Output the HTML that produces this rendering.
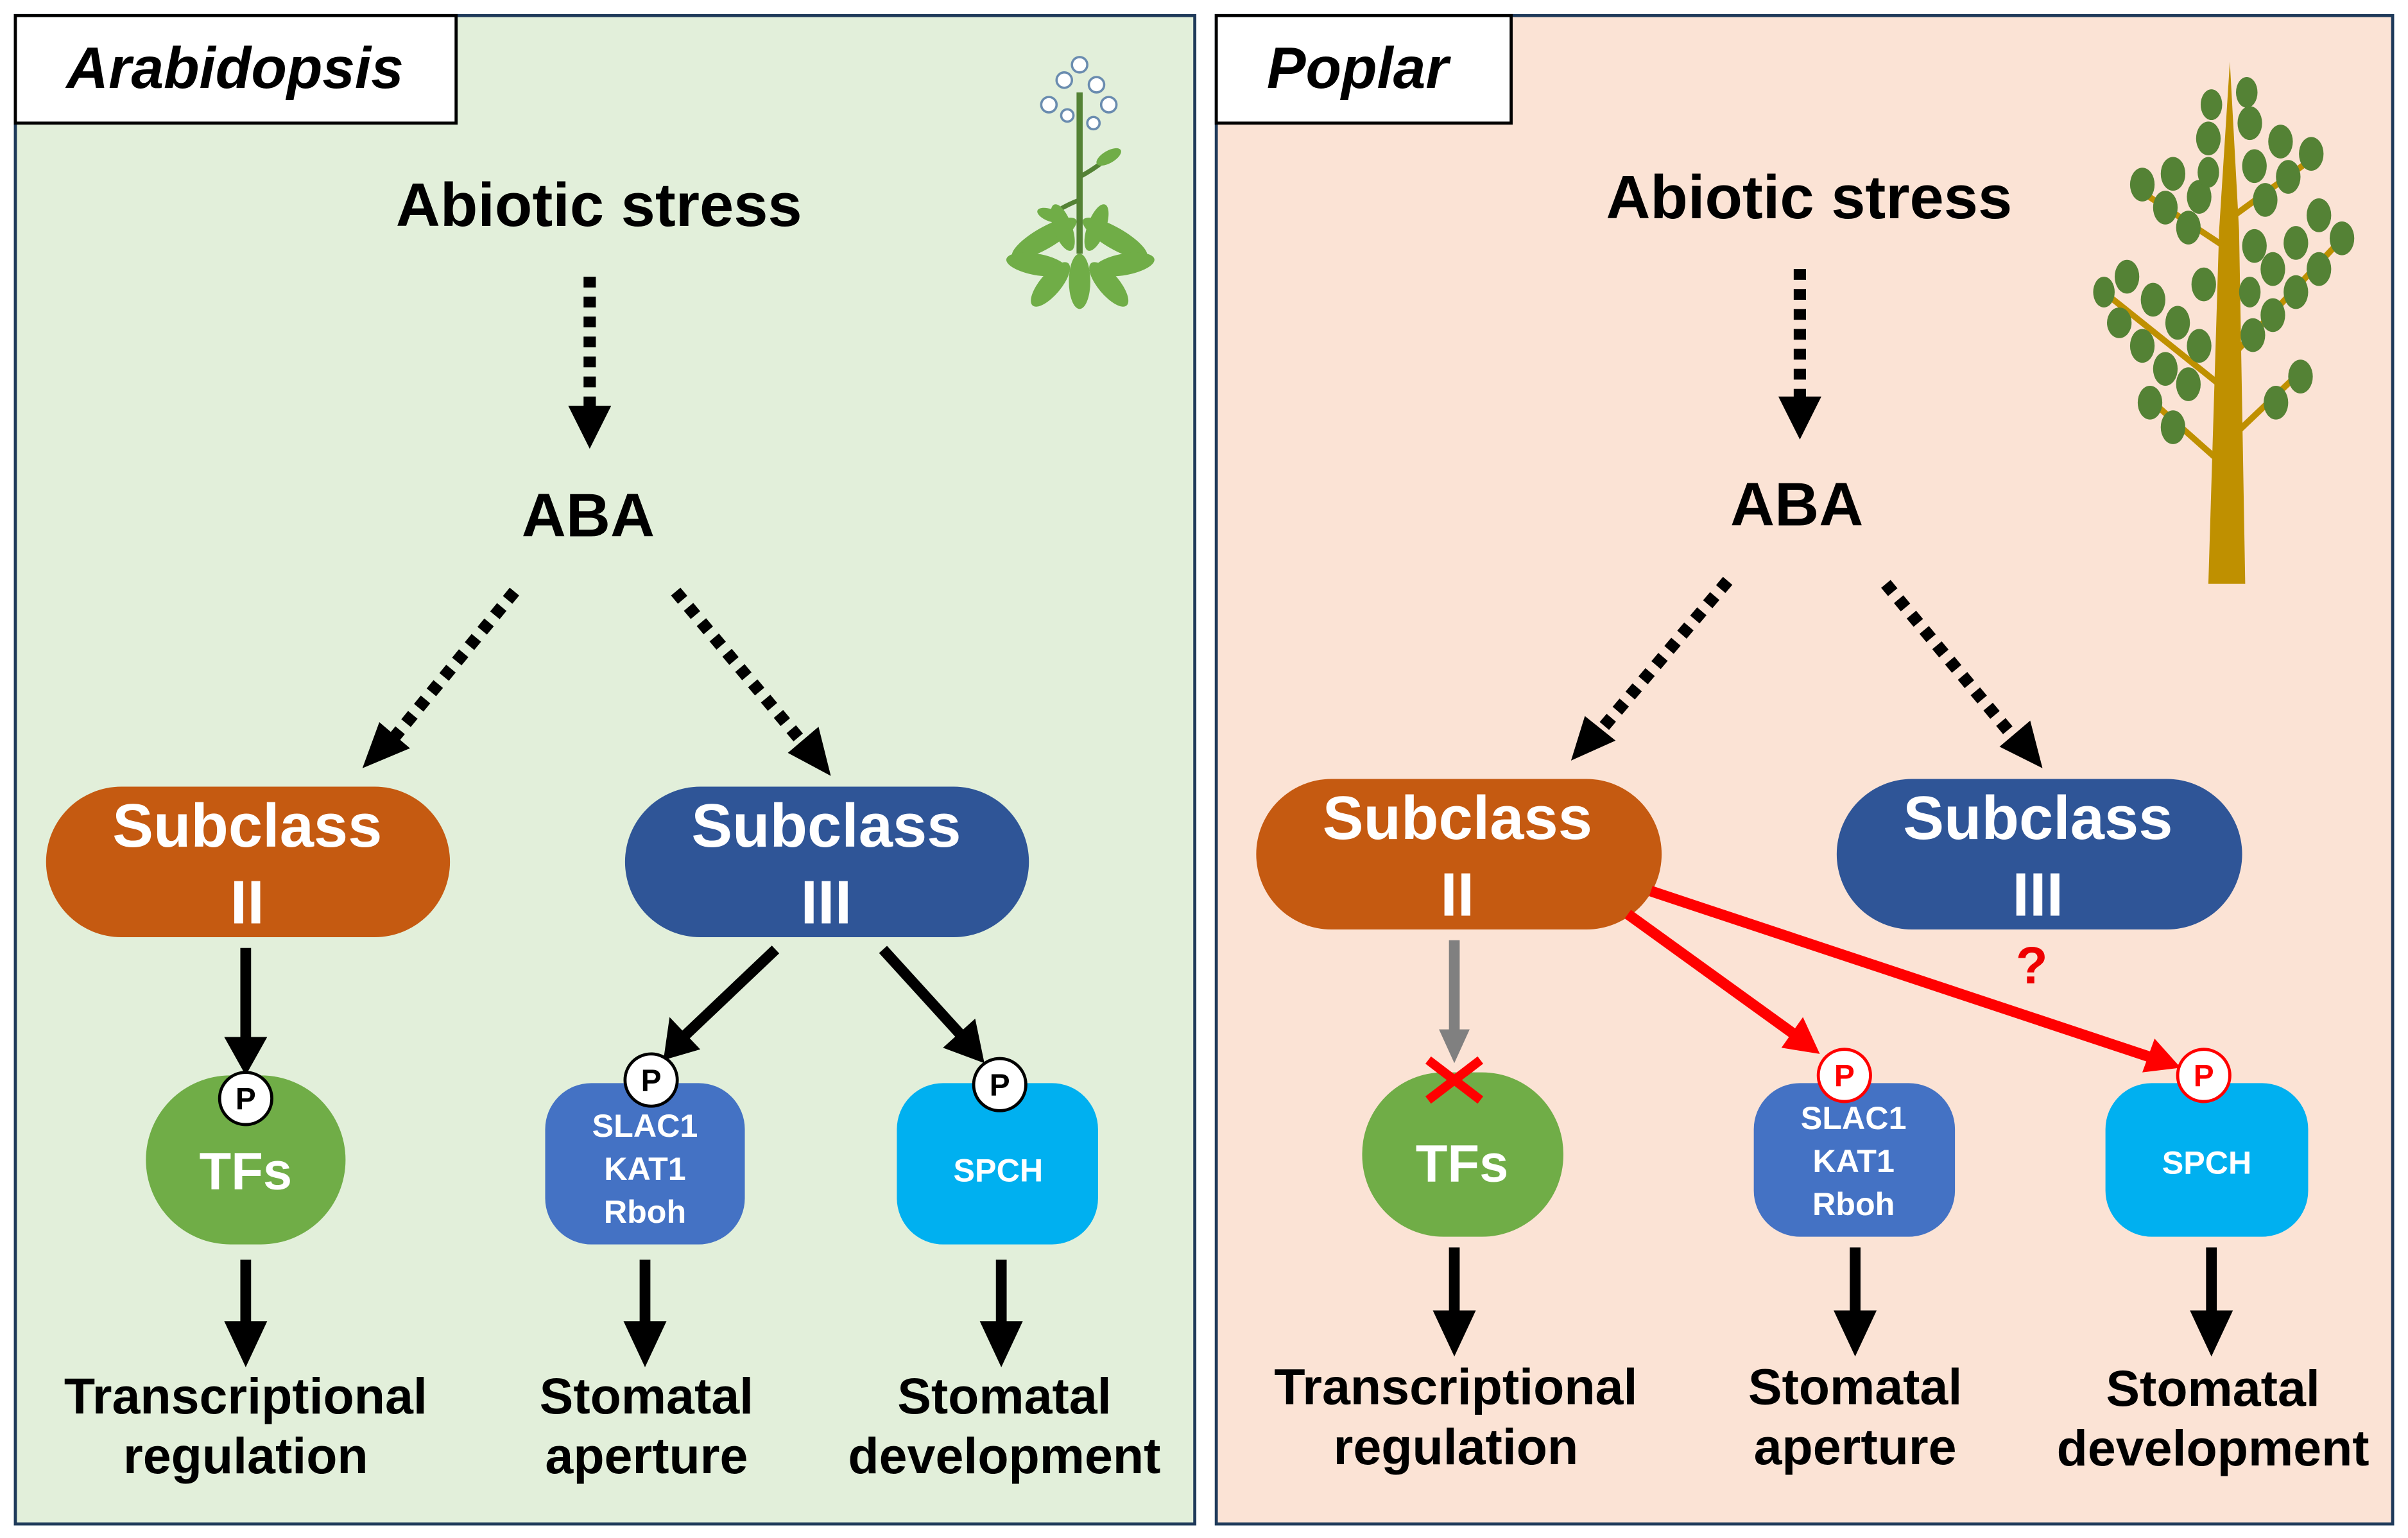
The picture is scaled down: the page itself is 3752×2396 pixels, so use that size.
<!DOCTYPE html>
<html><head><meta charset="utf-8"><style>
html,body{margin:0;padding:0;background:#fff}
svg{display:block}
text{font-family:"Liberation Sans",sans-serif;font-weight:bold;text-anchor:middle}
</style></head><body>
<svg width="3752" height="2396" viewBox="0 0 1568 1001" xmlns="http://www.w3.org/2000/svg">
<rect width="1568" height="1001" fill="#fff"/>
<!-- Left panel -->
<rect x="10" y="10" width="768" height="982" fill="#e2efda" stroke="#1f3a5a" stroke-width="2"/>
<rect x="10" y="10" width="287" height="70" fill="#fff" stroke="#000" stroke-width="2"/>
<text x="153" y="57" font-size="38" font-style="italic">Arabidopsis</text>
<!-- Right panel -->
<rect x="792" y="10" width="766" height="982" fill="#fbe3d5" stroke="#1f3a5a" stroke-width="2"/>
<rect x="792" y="10" width="192" height="70" fill="#fff" stroke="#000" stroke-width="2"/>
<text x="884" y="57" font-size="38" font-style="italic">Poplar</text>

<!-- Arabidopsis plant -->
<g>
<path d="M703 60 L703 165" stroke="#548235" stroke-width="4"/>
<path d="M703 115 Q716 108 724 100" stroke="#548235" stroke-width="3" fill="none"/>
<path d="M703 130 Q690 135 682 142" stroke="#548235" stroke-width="3" fill="none"/>
<ellipse cx="722" cy="102" rx="9" ry="4" fill="#70ad47" transform="rotate(-30 722 102)"/>
<ellipse cx="684" cy="140" rx="9" ry="4" fill="#70ad47" transform="rotate(20 684 140)"/>
<g fill="#70ad47">
<ellipse cx="680" cy="155" rx="24" ry="7" transform="rotate(-30 680 155)"/>
<ellipse cx="726" cy="155" rx="24" ry="7" transform="rotate(30 726 155)"/>
<ellipse cx="675" cy="172" rx="20" ry="7" transform="rotate(10 675 172)"/>
<ellipse cx="732" cy="172" rx="20" ry="7" transform="rotate(-10 732 172)"/>
<ellipse cx="684" cy="185" rx="7" ry="18" transform="rotate(40 684 185)"/>
<ellipse cx="722" cy="185" rx="7" ry="18" transform="rotate(-40 722 185)"/>
<ellipse cx="703" cy="183" rx="7" ry="18"/>
<ellipse cx="692" cy="148" rx="6" ry="16" transform="rotate(-20 692 148)"/>
<ellipse cx="714" cy="148" rx="6" ry="16" transform="rotate(20 714 148)"/>
</g>
<g fill="#fff" stroke="#6a8caf" stroke-width="1.5">
<circle cx="703" cy="42" r="5"/><circle cx="693" cy="52" r="5"/><circle cx="714" cy="55" r="5"/>
<circle cx="683" cy="68" r="5"/><circle cx="722" cy="68" r="5"/><circle cx="695" cy="75" r="4"/><circle cx="712" cy="80" r="4"/>
</g>
</g>

<!-- Poplar tree -->
<g>
<path d="M1438 380 L1445 150 L1452 40 L1458 150 L1462 380 z" fill="#bf9000"/>
<g stroke="#bf9000" stroke-width="4" fill="none">
<path d="M1445 250 L1370 190"/><path d="M1455 230 L1530 150"/><path d="M1448 160 L1395 125"/><path d="M1455 140 L1510 100"/><path d="M1445 300 L1400 260"/><path d="M1458 280 L1500 240"/>
</g>
<g fill="#548235">
<ellipse cx="1370" cy="190" rx="7" ry="10"/><ellipse cx="1380" cy="210" rx="8" ry="10"/><ellipse cx="1395" cy="225" rx="8" ry="11"/><ellipse cx="1410" cy="240" rx="8" ry="11"/><ellipse cx="1425" cy="250" rx="8" ry="11"/>
<ellipse cx="1385" cy="180" rx="8" ry="11"/><ellipse cx="1402" cy="195" rx="8" ry="11"/><ellipse cx="1418" cy="210" rx="8" ry="11"/><ellipse cx="1432" cy="225" rx="8" ry="11"/>
<ellipse cx="1525" cy="155" rx="8" ry="11"/><ellipse cx="1510" cy="175" rx="8" ry="11"/><ellipse cx="1495" cy="190" rx="8" ry="11"/><ellipse cx="1480" cy="205" rx="8" ry="11"/><ellipse cx="1467" cy="218" rx="8" ry="11"/>
<ellipse cx="1510" cy="140" rx="8" ry="11"/><ellipse cx="1495" cy="158" rx="8" ry="11"/><ellipse cx="1480" cy="175" rx="8" ry="11"/>
<ellipse cx="1395" cy="120" rx="8" ry="11"/><ellipse cx="1410" cy="135" rx="8" ry="11"/><ellipse cx="1425" cy="148" rx="8" ry="11"/><ellipse cx="1415" cy="113" rx="8" ry="11"/><ellipse cx="1432" cy="128" rx="8" ry="11"/>
<ellipse cx="1505" cy="100" rx="8" ry="11"/><ellipse cx="1490" cy="115" rx="8" ry="11"/><ellipse cx="1475" cy="130" rx="8" ry="11"/><ellipse cx="1485" cy="92" rx="8" ry="11"/><ellipse cx="1468" cy="108" rx="8" ry="11"/>
<ellipse cx="1438" cy="90" rx="8" ry="11"/><ellipse cx="1465" cy="80" rx="8" ry="11"/><ellipse cx="1440" cy="68" rx="7" ry="10"/><ellipse cx="1463" cy="60" rx="7" ry="10"/><ellipse cx="1438" cy="112" rx="7" ry="10"/>
<ellipse cx="1400" cy="262" rx="8" ry="11"/><ellipse cx="1415" cy="278" rx="8" ry="11"/><ellipse cx="1498" cy="245" rx="8" ry="11"/><ellipse cx="1482" cy="262" rx="8" ry="11"/>
<ellipse cx="1435" cy="185" rx="8" ry="11"/><ellipse cx="1468" cy="160" rx="8" ry="11"/><ellipse cx="1465" cy="190" rx="7" ry="10"/>
</g>
</g>

<g font-size="40">
<text x="390" y="147">Abiotic stress</text>
<text x="383" y="349">ABA</text>
<text x="1178" y="142">Abiotic stress</text>
<text x="1170" y="342">ABA</text>
</g>

<g stroke="#000" stroke-width="8" stroke-dasharray="7,6" fill="none">
<line x1="384" y1="180" x2="384" y2="268"/>
<line x1="335" y1="385" x2="255" y2="482"/>
<line x1="440" y1="385" x2="524" y2="485"/>
<line x1="1172" y1="175" x2="1172" y2="262"/>
<line x1="1125" y1="378" x2="1040" y2="478"/>
<line x1="1228" y1="380" x2="1313" y2="482"/>
</g>
<g fill="#000">
<path d="M370 264 L398 264 L384 292 z"/>
<path d="M1158 258 L1186 258 L1172 286 z"/>
<path d="M236 500 L247 470 L267 487 z"/>
<path d="M541 505 L513 490 L533 473 z"/>
<path d="M1023 495 L1032 466 L1052 482 z"/>
<path d="M1330 500 L1302 486 L1322 469 z"/>
</g>

<g font-size="40" fill="#fff">
<rect x="30" y="512" width="263" height="98" rx="49" fill="#c55a11"/>
<text x="161" y="551" fill="#fff">Subclass</text><text x="161" y="601" fill="#fff">II</text>
<rect x="407" y="512" width="263" height="98" rx="49" fill="#2f5597"/>
<text x="538" y="551" fill="#fff">Subclass</text><text x="538" y="601" fill="#fff">III</text>
<rect x="818" y="507" width="264" height="98" rx="49" fill="#c55a11"/>
<text x="949" y="546" fill="#fff">Subclass</text><text x="949" y="596" fill="#fff">II</text>
<rect x="1196" y="507" width="264" height="98" rx="49" fill="#2f5597"/>
<text x="1327" y="546" fill="#fff">Subclass</text><text x="1327" y="596" fill="#fff">III</text>
</g>
<text x="1323" y="640" font-size="34" fill="#e00">?</text>

<rect x="95" y="700" width="130" height="110" rx="55" fill="#70ad47"/>
<text x="160" y="774" font-size="34" fill="#fff">TFs</text>
<rect x="355" y="705" width="130" height="105" rx="30" fill="#4472c4"/>
<g font-size="21" fill="#fff"><text x="420" y="740" fill="#fff">SLAC1</text><text x="420" y="768" fill="#fff">KAT1</text><text x="420" y="796" fill="#fff">Rboh</text></g>
<rect x="584" y="705" width="131" height="105" rx="30" fill="#00b0f0"/>
<text x="650" y="769" font-size="21" fill="#fff">SPCH</text>

<rect x="887" y="698" width="131" height="107" rx="53" fill="#70ad47"/>
<text x="952" y="769" font-size="34" fill="#fff">TFs</text>
<rect x="1142" y="705" width="131" height="100" rx="30" fill="#4472c4"/>
<g font-size="21" fill="#fff"><text x="1207" y="735" fill="#fff">SLAC1</text><text x="1207" y="763" fill="#fff">KAT1</text><text x="1207" y="791" fill="#fff">Rboh</text></g>
<rect x="1371" y="705" width="132" height="100" rx="30" fill="#00b0f0"/>
<text x="1437" y="764" font-size="21" fill="#fff">SPCH</text>

<g stroke="#000" stroke-width="7">
<line x1="160" y1="617" x2="160" y2="678"/>
<line x1="505" y1="618" x2="446" y2="674"/>
<line x1="575" y1="618" x2="626" y2="674"/>
<line x1="160" y1="820" x2="160" y2="865"/>
<line x1="420" y1="820" x2="420" y2="865"/>
<line x1="652" y1="820" x2="652" y2="865"/>
<line x1="947" y1="812" x2="947" y2="858"/>
<line x1="1208" y1="812" x2="1208" y2="858"/>
<line x1="1440" y1="812" x2="1440" y2="858"/>
</g>
<g fill="#000">
<path d="M146 675 L174 675 L160 700 z"/>
<path d="M432 690 L436 662 L456 683 z"/>
<path d="M641 692 L614 682 L635 663 z"/>
<path d="M146 860 L174 860 L160 890 z"/>
<path d="M406 860 L434 860 L420 890 z"/>
<path d="M638 860 L666 860 L652 890 z"/>
<path d="M933 853 L961 853 L947 883 z"/>
<path d="M1194 853 L1222 853 L1208 883 z"/>
<path d="M1426 853 L1454 853 L1440 883 z"/>
</g>

<line x1="947" y1="612" x2="947" y2="672" stroke="#808080" stroke-width="7"/>
<path d="M937 670 L957 670 L947 692 z" fill="#808080"/>
<g stroke="#f00" stroke-width="7">
<line x1="1060" y1="595" x2="1168" y2="673"/>
<line x1="1075" y1="580" x2="1400" y2="688"/>
</g>
<path d="M1185 686 L1160 682 L1174 662 z" fill="#f00"/>
<path d="M1420 695 L1395 698 L1403 676 z" fill="#f00"/>
<g stroke="#f00" stroke-width="6"><line x1="930" y1="690" x2="964" y2="716"/><line x1="964" y1="690" x2="930" y2="716"/></g>

<g stroke-width="2" font-size="20">
<circle cx="160" cy="715" r="17" fill="#fff" stroke="#000"/><text x="160" y="722">P</text>
<circle cx="424" cy="703" r="17" fill="#fff" stroke="#000"/><text x="424" y="710">P</text>
<circle cx="651" cy="706" r="17" fill="#fff" stroke="#000"/><text x="651" y="713">P</text>
<circle cx="1201" cy="700" r="17" fill="#fff" stroke="#f00"/><text x="1201" y="707" fill="#f00">P</text>
<circle cx="1435" cy="700" r="17" fill="#fff" stroke="#f00"/><text x="1435" y="707" fill="#f00">P</text>
</g>

<g font-size="33">
<text x="160" y="920">Transcriptional</text><text x="160" y="959">regulation</text>
<text x="421" y="920">Stomatal</text><text x="421" y="959">aperture</text>
<text x="654" y="920">Stomatal</text><text x="654" y="959">development</text>
<text x="948" y="914">Transcriptional</text><text x="948" y="953">regulation</text>
<text x="1208" y="914">Stomatal</text><text x="1208" y="953">aperture</text>
<text x="1441" y="915">Stomatal</text><text x="1441" y="954">development</text>
</g>
</svg>
</body></html>
